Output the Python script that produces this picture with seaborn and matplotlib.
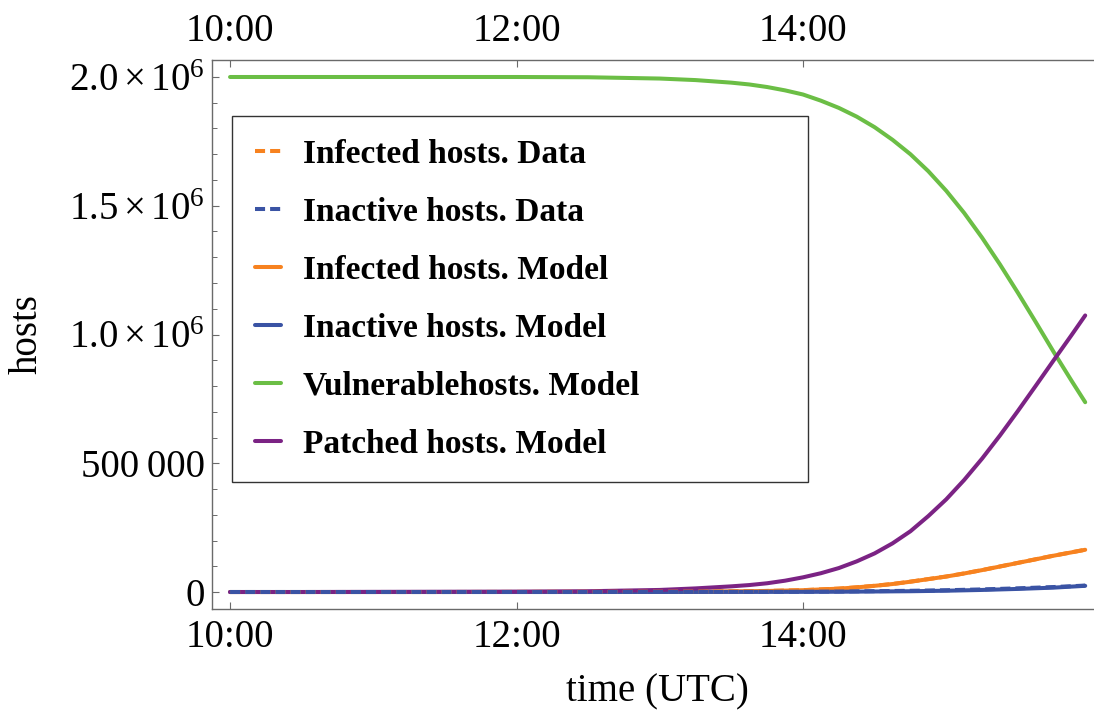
import numpy as np
import pandas as pd
import matplotlib
matplotlib.use("Agg")
import matplotlib.pyplot as plt
import seaborn as sns
from matplotlib.ticker import FixedLocator, FixedFormatter, MultipleLocator

# ---------------- data (hours after 10:00 UTC, host counts in millions) -------------
hours = [0, 0.5, 1, 1.5, 2, 2.5, 3, 3.25, 3.5, 3.625, 3.75, 3.875, 4, 4.125, 4.25,
         4.375, 4.5, 4.625, 4.75, 4.875, 5, 5.125, 5.25, 5.375, 5.5, 5.625, 5.75,
         5.875, 5.97]

vulnerable_model = [2.000, 2.000, 2.000, 2.000, 2.000, 1.999, 1.994, 1.988, 1.978, 1.971,
                    1.961, 1.948, 1.932, 1.908, 1.880, 1.846, 1.805, 1.756, 1.700, 1.634,
                    1.558, 1.472, 1.376, 1.272, 1.162, 1.048, 0.932, 0.820, 0.737]
patched_model = [0.000, 0.000, 0.0005, 0.001, 0.0015, 0.003, 0.008, 0.014, 0.022, 0.027,
                 0.034, 0.044, 0.057, 0.073, 0.093, 0.119, 0.150, 0.189, 0.236, 0.295,
                 0.360, 0.435, 0.518, 0.608, 0.703, 0.801, 0.900, 0.998, 1.074]
infected_model = [0.000, 0.000, 0.000, 0.000, 0.0002, 0.0005, 0.001, 0.0015, 0.0025, 0.003,
                  0.004, 0.0055, 0.007, 0.010, 0.013, 0.018, 0.024, 0.031, 0.040, 0.050,
                  0.060, 0.072, 0.085, 0.099, 0.113, 0.127, 0.141, 0.154, 0.164]
inactive_model = [0.000, 0.000, 0.000, 0.000, 0.000, 0.000, 0.0001, 0.0002, 0.0003, 0.0003,
                  0.0004, 0.0005, 0.0006, 0.0008, 0.001, 0.0015, 0.002, 0.0025, 0.003, 0.004,
                  0.005, 0.0065, 0.008, 0.010, 0.012, 0.0145, 0.017, 0.021, 0.024]
infected_data = [0.000, 0.000, 0.000, 0.000, 0.0002, 0.0005, 0.001, 0.0016, 0.0026, 0.0032,
                 0.0042, 0.0057, 0.0072, 0.0102, 0.0132, 0.0182, 0.0242, 0.0312, 0.0402, 0.0502,
                 0.0602, 0.0722, 0.0852, 0.0992, 0.1132, 0.1272, 0.1412, 0.1542, 0.1642]
inactive_data = [0.000, 0.000, 0.000, 0.000, 0.000, 0.000, 0.0002, 0.0003, 0.0005, 0.0006,
                 0.0008, 0.0010, 0.0012, 0.0016, 0.0020, 0.0026, 0.0033, 0.0040, 0.0047, 0.0058,
                 0.0069, 0.0085, 0.0101, 0.0122, 0.0143, 0.0168, 0.0193, 0.0225, 0.0250]

labels = ["Infected hosts. Data", "Inactive hosts. Data", "Infected hosts. Model",
          "Inactive hosts. Model", "Vulnerablehosts. Model", "Patched hosts. Model"]

x_tick_pos = [0, 2, 4]
x_tick_labels = ["10:00", "12:00", "14:00"]
y_tick_pos = [0, 500000, 1000000, 1500000, 2000000]
y_tick_labels = ["0", "500\u2009000", r"$1.0\times10^{6}$", r"$1.5\times10^{6}$", r"$2.0\times10^{6}$"]

ORANGE = "#F7821F"
BLUE = "#3A53A4"
GREEN = "#6BBE45"
PURPLE = "#7B2384"

# ---------------- style ----------------
sns.set_theme(style="ticks")
plt.rcParams["font.family"] = ["Liberation Serif", "DejaVu Serif"]
plt.rcParams["mathtext.fontset"] = "custom"
plt.rcParams["mathtext.rm"] = "Liberation Serif"
plt.rcParams["mathtext.it"] = "Liberation Serif:italic"
plt.rcParams["mathtext.bf"] = "Liberation Serif:bold"
plt.rcParams["text.color"] = "black"
plt.rcParams["axes.labelcolor"] = "black"
plt.rcParams["legend.labelcolor"] = "black"

W, H = 1094, 711
fig = plt.figure(figsize=(W / 100, H / 100), dpi=100)
ax = fig.add_axes([212 / W, (H - 609) / H, (1100 - 212) / W, (609 - 60) / H])

LW = 2.9
dash = (0, (2.5, 1.25))

series = [
    (infected_model, ORANGE, "-", labels[2]),
    (inactive_model, BLUE, "-", labels[3]),
    (vulnerable_model, GREEN, "-", labels[4]),
    (patched_model, PURPLE, "-", labels[5]),
    (infected_data, ORANGE, dash, labels[0]),
    (inactive_data, BLUE, dash, labels[1]),
]
handles = {}
for vals, col, ls, lab in series:
    df = pd.DataFrame({"t": hours, "hosts": np.array(vals) * 1e6})
    sns.lineplot(data=df, x="t", y="hosts", color=col, linestyle=ls, linewidth=LW,
                 ax=ax, label=lab, legend=False)
    handles[lab] = ax.lines[-1]

ax.set_xlim(-0.126, (1100 - 230) / 143.25)
ax.set_ylim(-66000, 2.066e6)

ax.xaxis.set_major_locator(FixedLocator(x_tick_pos))
ax.xaxis.set_major_formatter(FixedFormatter(x_tick_labels))
ax.yaxis.set_major_locator(FixedLocator(y_tick_pos))
ax.yaxis.set_major_formatter(FixedFormatter(y_tick_labels))
ax.yaxis.set_minor_locator(MultipleLocator(100000))

spine_col = "#6a6a6a"
for s in ax.spines.values():
    s.set_color(spine_col)
    s.set_linewidth(1.0)

ax.tick_params(axis="both", which="major", direction="in", length=5, width=0.8,
               color=spine_col, labelsize=28, labelcolor="black")
ax.tick_params(axis="x", which="major", top=True, labeltop=True, bottom=True,
               labelbottom=True, pad=7)
ax.tick_params(axis="y", which="major", pad=5, right=False)
ax.tick_params(axis="y", which="minor", direction="in", length=3.5, width=0.7,
               color=spine_col, right=False)

ax.set_xlabel("time (UTC)", fontsize=28, color="black")
ax.set_ylabel("hosts", fontsize=28, color="black")
ax.xaxis.set_label_coords((657 - 212) / (1100 - 212), (609 - 673) / 549)
ax.yaxis.set_label_coords((46 - 212) / (1100 - 212), 0.5)

leg = fig.legend([handles[l] for l in labels], labels,
                 loc="upper left",
                 bbox_to_anchor=(232 / W, 1 - 478 / H, (808 - 232) / W, (478 - 116) / H),
                 mode="expand", borderaxespad=0, frameon=True, fancybox=False,
                 framealpha=1, edgecolor="#333333", prop={"weight": "bold", "size": 24},
                 handlelength=0.78, handletextpad=0.66, labelspacing=0.81, borderpad=0.68)
leg.get_frame().set_linewidth(1.0)
for txt in leg.get_texts():
    txt.set_color("black")

fig.savefig("out.png", dpi=100)
